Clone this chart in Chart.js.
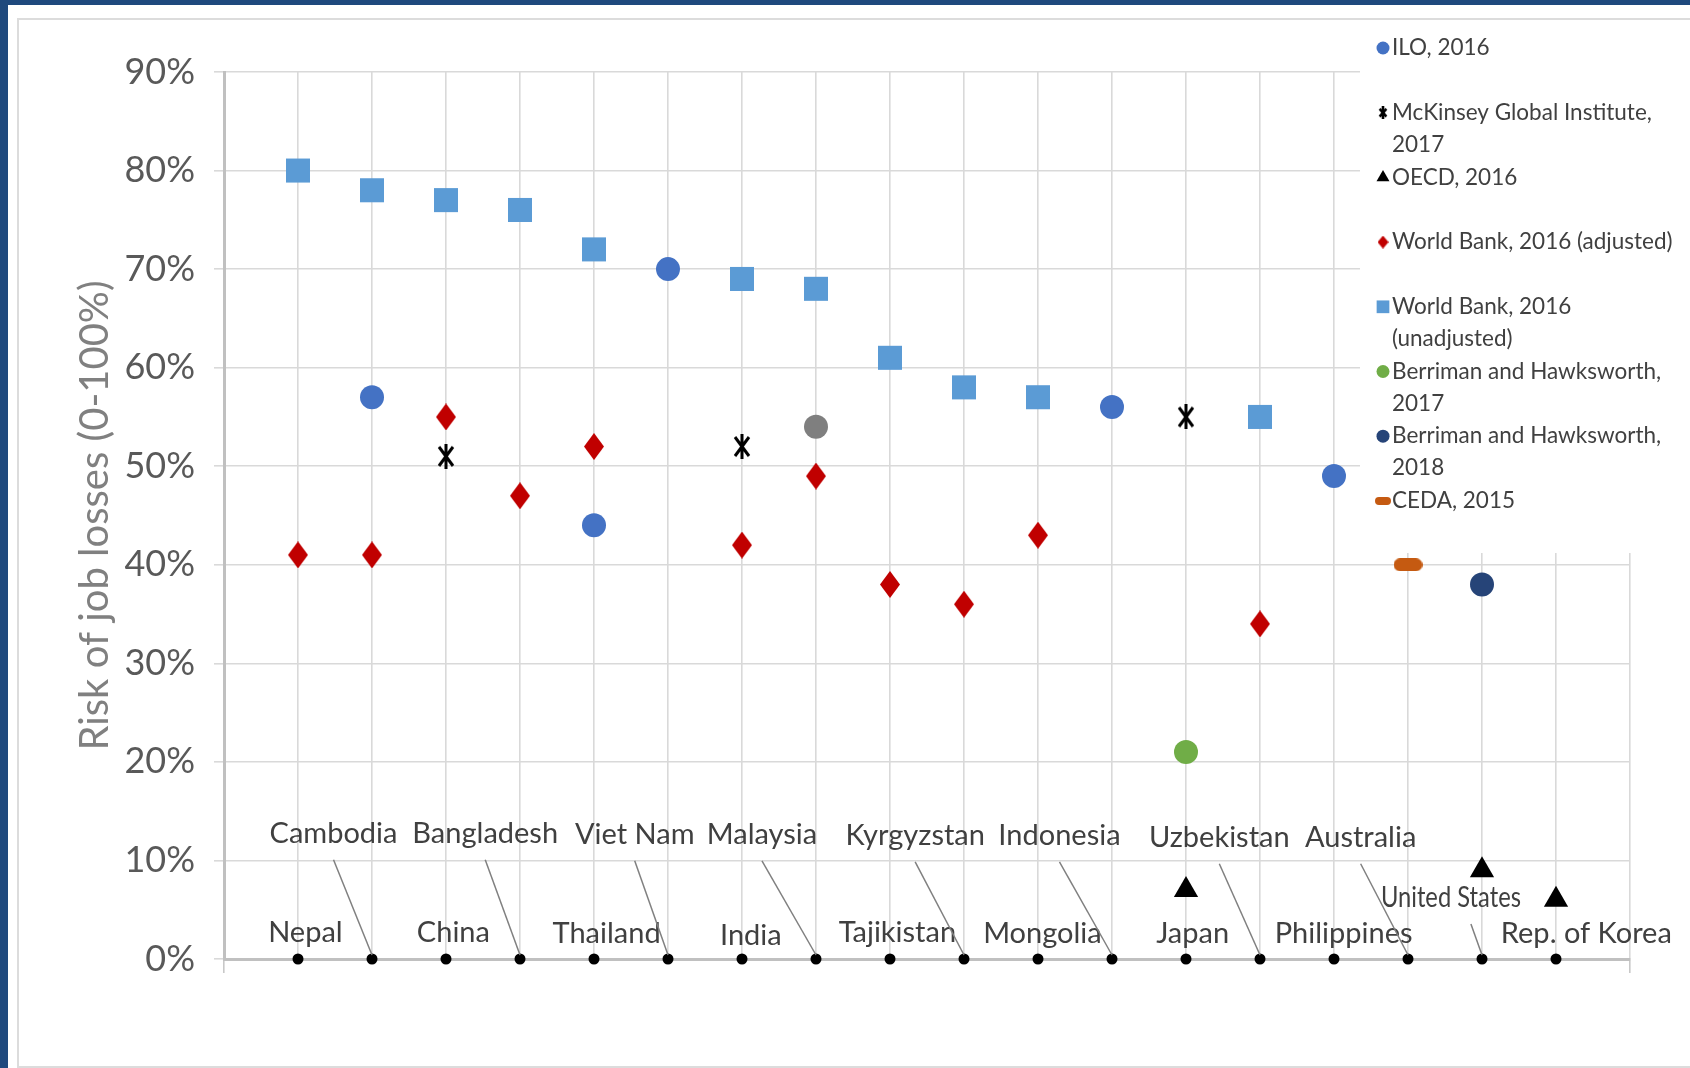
<!DOCTYPE html>
<html lang="en">
<head>
<meta charset="utf-8" />
<title>Risk of job losses</title>
<script src="https://cdn.jsdelivr.net/npm/chart.js"></script>
<style>
  body { margin: 0; background: #fff; }
  #frame {
    position: absolute; left: 0; top: 0; width: 1690px; height: 1068px;
    box-sizing: border-box; border-left: 8px solid #1f497d; border-top: 5px solid #1f497d;
  }
  #inner {
    position: absolute; left: 17px; top: 18px; width: 1673px; height: 1050px;
    box-sizing: border-box; border-left: 2px solid #dcdcdc; border-top: 2px solid #dcdcdc; border-bottom: 2px solid #dcdcdc;
  }
  #chart { position: absolute; left: 0; top: 0; }
</style>
</head>
<body>
<div id="frame"></div>
<div id="inner"></div>
<canvas id="chart" width="1690" height="1068"></canvas>

<script>
// categories, left to right
var categories = ['Nepal', 'Cambodia', 'China', 'Bangladesh', 'Thailand', 'Viet Nam', 'India', 'Malaysia',
    'Tajikistan', 'Kyrgyzstan', 'Mongolia', 'Indonesia', 'Japan', 'Uzbekistan', 'Philippines',
    'Australia', 'United States', 'Rep. of Korea'];

// risk of job losses, % (null = no estimate)
var ilo2016      = [null, 57, null, null, 44, 70, null, null, null, null, null, 56, null, null, 49, null, null, null];
var mckinsey2017 = [null, null, 51, null, null, null, 52, null, null, null, null, null, 55, null, null, null, null, null];
var oecd2016     = [null, null, null, null, null, null, null, null, null, null, null, null, 7, null, null, null, 9, 6];
var wbAdjusted   = [41, 41, 55, 47, 52, null, 42, 49, 38, 36, 43, null, null, 34, null, null, null, null];
var wbUnadjusted = [80, 78, 77, 76, 72, null, 69, 68, 61, 58, 57, null, null, 55, null, null, null, null];
var bh2017       = [null, null, null, null, null, null, null, null, null, null, null, null, 21, null, null, null, null, null];
var bh2018       = [null, null, null, null, null, null, null, null, null, null, null, null, null, null, null, null, 38, null];
var ceda2015     = [null, null, null, null, null, null, null, null, null, null, null, null, null, null, null, 40, null, null];
var otherEst     = [null, null, null, null, null, null, null, 54, null, null, null, null, null, null, null, null, null, null];
var yTicks = [0, 10, 20, 30, 40, 50, 60, 70, 80, 90];

// where each country name sits (category offset, % height) and whether it has a leader line
var labelDx = [0.10, -0.52, 0.10, -0.47, 0.17, -0.45, 0.12, -0.73, 0.10, -0.66, 0.06, -0.71, 0.09, -0.55, 0.13, -0.64, -0.42, 0.41];
var labelY  = [2.7, 12.7, 2.7, 12.7, 2.6, 12.6, 2.4, 12.6, 2.7, 12.5, 2.6, 12.5, 2.6, 12.3, 2.6, 12.3, 6.2, 2.6];
var hasLeader = [false, true, false, true, false, true, false, true, false, true, false, true, false, true, false, true, true, false];

function points(values) {
    var out = [];
    values.forEach(function (v, i) {
        if (v !== null) out.push({ x: i + 1, y: v });
    });
    return out;
}

function diamond(w, h, color) {
    var c = document.createElement('canvas');
    c.width = w; c.height = h;
    var g = c.getContext('2d');
    g.fillStyle = color;
    g.beginPath();
    g.moveTo(w / 2, 0); g.lineTo(w, h / 2); g.lineTo(w / 2, h); g.lineTo(0, h / 2);
    g.closePath(); g.fill();
    return c;
}

function star(w, h, lw) {
    var c = document.createElement('canvas');
    c.width = w; c.height = h;
    var g = c.getContext('2d');
    g.strokeStyle = '#000';
    g.lineWidth = lw;
    g.beginPath();
    g.moveTo(lw, lw); g.lineTo(w - lw, h - lw);
    g.moveTo(w - lw, lw); g.lineTo(lw, h - lw);
    g.moveTo(w / 2, 0); g.lineTo(w / 2, h);
    g.stroke();
    return c;
}

function pill(w, h, color) {
    var c = document.createElement('canvas');
    c.width = w; c.height = h;
    var g = c.getContext('2d');
    var r = h / 2;
    g.fillStyle = color;
    g.beginPath();
    g.moveTo(r, 0); g.lineTo(w - r, 0); g.arc(w - r, r, r, -Math.PI / 2, Math.PI / 2);
    g.lineTo(r, h); g.arc(r, r, r, Math.PI / 2, Math.PI * 1.5);
    g.closePath(); g.fill();
    return c;
}

var redDiamond = diamond(20, 27, '#c00000');
var blackStar = star(20, 25, 3);
var cedaPill = pill(29, 13, '#c55a11');

var datasets = [
    { label: 'ILO, 2016', data: points(ilo2016), pointStyle: 'circle', pointRadius: 12, backgroundColor: '#4472c4', borderColor: '#4472c4' },
    { label: 'McKinsey Global Institute, 2017', data: points(mckinsey2017), pointStyle: blackStar, backgroundColor: '#000', borderColor: '#000' },
    { label: 'OECD, 2016', data: points(oecd2016), pointStyle: 'triangle', pointRadius: 14, backgroundColor: '#000', borderColor: '#000' },
    { label: 'World Bank, 2016 (adjusted)', data: points(wbAdjusted), pointStyle: redDiamond, backgroundColor: '#c00000', borderColor: '#c00000' },
    { label: 'World Bank, 2016 (unadjusted)', data: points(wbUnadjusted), pointStyle: 'rect', pointRadius: 17, backgroundColor: '#5b9bd5', borderColor: '#5b9bd5' },
    { label: 'Berriman and Hawksworth, 2017', data: points(bh2017), pointStyle: 'circle', pointRadius: 12, backgroundColor: '#70ad47', borderColor: '#70ad47' },
    { label: 'Berriman and Hawksworth, 2018', data: points(bh2018), pointStyle: 'circle', pointRadius: 12, backgroundColor: '#264478', borderColor: '#264478' },
    { label: 'CEDA, 2015', data: points(ceda2015), pointStyle: cedaPill, backgroundColor: '#c55a11', borderColor: '#c55a11' },
    { label: 'Other', data: points(otherEst), pointStyle: 'circle', pointRadius: 12, backgroundColor: '#7f7f7f', borderColor: '#7f7f7f' },
    { label: 'Labels', data: points(categories.map(function () { return 0; })), pointStyle: 'circle', pointRadius: 5.5, backgroundColor: '#000', borderColor: '#000' }
];
datasets.forEach(function (d) { d.borderWidth = 0; d.showLine = false; d.clip = false; });

// legend entries: text lines + small marker
var legendItems = [
    { lines: ['ILO, 2016'], style: 'circle', r: 6.5, color: '#4472c4' },
    { lines: ['McKinsey Global Institute,', '2017'], style: star(12, 13, 2.6), color: '#000' },
    { lines: ['OECD, 2016'], style: 'triangle', r: 7.5, color: '#000' },
    { lines: ['World Bank, 2016 (adjusted)'], style: diamond(11, 13, '#c00000'), color: '#c00000' },
    { lines: ['World Bank, 2016', '(unadjusted)'], style: 'rect', r: 9, color: '#5b9bd5' },
    { lines: ['Berriman and Hawksworth,', '2017'], style: 'circle', r: 6.5, color: '#70ad47' },
    { lines: ['Berriman and Hawksworth,', '2018'], style: 'circle', r: 6.5, color: '#264478' },
    { lines: ['CEDA, 2015'], style: pill(16, 8, '#c55a11'), color: '#c55a11' }
];

var legendBox = {
    id: 'legendBox',
    beforeDatasetsDraw: function (chart) {
        var ctx = chart.ctx;
        ctx.save();
        ctx.fillStyle = '#fff';
        ctx.fillRect(1360, 22, 328, 531);
        ctx.font = '22.5px Lato';
        ctx.textBaseline = 'middle';
        var y = 48;
        legendItems.forEach(function (it) {
            ctx.fillStyle = it.color;
            ctx.strokeStyle = it.color;
            Chart.helpers.drawPoint(ctx, { pointStyle: it.style, radius: it.r || 6, rotation: 0, borderWidth: 0 }, 1383, y);
            ctx.fillStyle = '#404040';
            it.lines.forEach(function (t, k) {
                ctx.fillText(t, 1392, y + k * 32);
            });
            y += 64.7;
        });
        ctx.restore();
    }
};

var countryLabels = {
    id: 'countryLabels',
    afterDatasetsDraw: function (chart) {
        var ctx = chart.ctx;
        var xs = chart.scales.x, ys = chart.scales.y;
        ctx.save();
        ctx.font = '29px Lato';
        ctx.textAlign = 'center';
        ctx.textBaseline = 'middle';
        categories.forEach(function (name, i) {
            var lx = xs.getPixelForValue(i + 1 + labelDx[i]);
            var ly = ys.getPixelForValue(labelY[i]);
            if (hasLeader[i]) {
                ctx.strokeStyle = '#808080';
                ctx.lineWidth = 1.5;
                ctx.beginPath();
                ctx.moveTo(lx + (i === 16 ? 20 : 0), ly + 26);
                ctx.lineTo(xs.getPixelForValue(i + 1), ys.getPixelForValue(0) - 4);
                ctx.stroke();
            }
            ctx.fillStyle = '#404040';
            // the United States label is squeezed in the original
            if (i === 16) ctx.fillText(name, lx, ly, 140);
            else ctx.fillText(name, lx, ly);
        });
        ctx.restore();
    }
};

new Chart(document.getElementById('chart'), {
    type: 'scatter',
    data: { datasets: datasets },
    plugins: [legendBox, countryLabels],
    options: {
        responsive: false,
        animation: false,
        devicePixelRatio: 1,
        events: [],
        layout: { padding: { top: 72, right: 60, left: 0, bottom: 0 } },
        plugins: { legend: { display: false }, tooltip: { enabled: false } },
        scales: {
            x: {
                type: 'linear', min: 0, max: categories.length + 1,
                ticks: { stepSize: 1, display: false },
                grid: {
                    color: function (c) { return c.tick.value === 0 ? 'rgba(0,0,0,0)' : '#d9d9d9'; },
                    lineWidth: 1.6,
                    tickLength: 14,
                    tickColor: function (c) {
                        return (c.tick.value === 0 || c.tick.value === categories.length + 1) ? '#c8c8c8' : 'rgba(0,0,0,0)';
                    }
                },
                border: { color: '#c0c0c0', width: 3 },
                afterFit: function (s) { s.height = 109; }
            },
            y: {
                min: 0, max: 90,
                afterBuildTicks: function (s) { s.ticks = yTicks.map(function (v) { return { value: v }; }); },
                ticks: {
                    callback: function (v) { return v + '%'; },
                    font: { family: 'Lato', size: 36 },
                    color: '#595959',
                    padding: 19
                },
                grid: { color: '#d9d9d9', lineWidth: 1.6, tickLength: 10, tickColor: '#d9d9d9' },
                border: { color: '#c0c0c0', width: 3 },
                title: {
                    display: true,
                    text: 'Risk of job losses (0-100%)',
                    font: { family: 'Lato', size: 40 },
                    color: '#808080',
                    padding: { top: 71, bottom: 0 }
                },
                afterFit: function (s) { s.width = 224; }
            }
        }
    }
});
</script>
</body>
</html>
